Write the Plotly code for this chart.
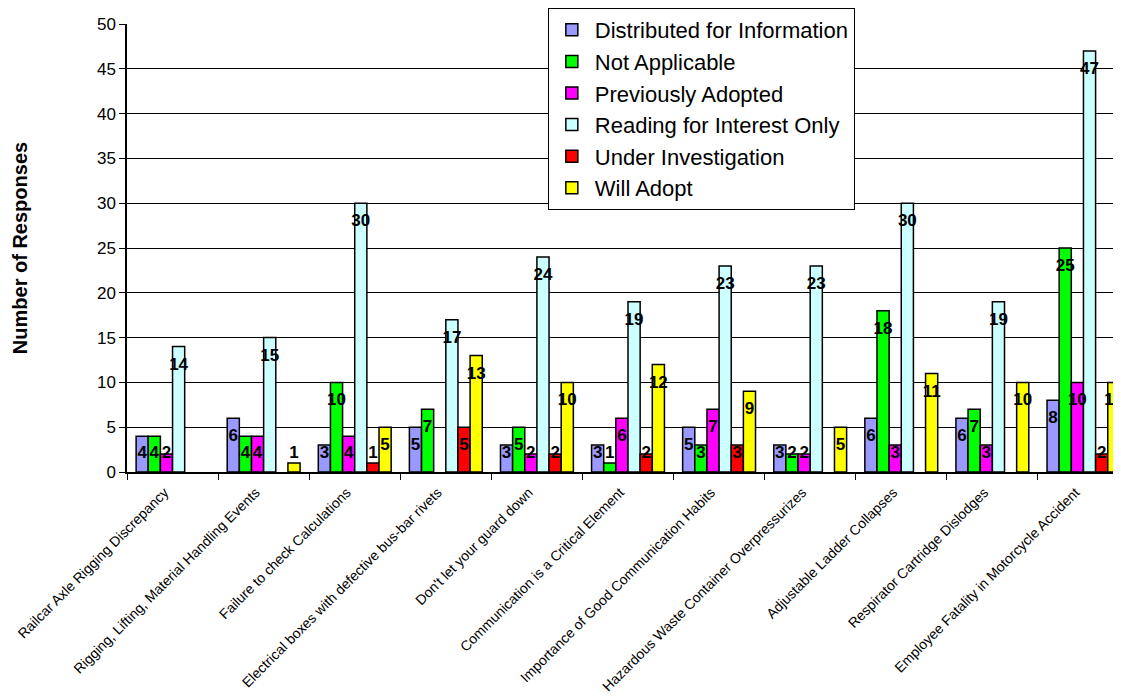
import plotly.graph_objects as go

# Responses per lesson learned
lessons = [
    "Railcar Axle Rigging Discrepancy",
    "Rigging, Lifting, Material Handling Events",
    "Failure to check Calculations",
    "Electrical boxes with defective bus-bar rivets",
    "Don't let your guard down",
    "Communication is a Critical Element",
    "Importance of Good Communication Habits",
    "Hazardous Waste Container Overpressurizes",
    "Adjustable Ladder Collapses",
    "Respirator Cartridge Dislodges",
    "Employee Fatality in Motorcycle Accident",
]
distributed = [4, 6, 3, 5, 3, 3, 5, 3, 6, 6, 8]
not_applicable = [4, 4, 10, 7, 5, 1, 3, 2, 18, 7, 25]
previously_adopted = [2, 4, 4, None, 2, 6, 7, 2, 3, 3, 10]
reading_interest = [14, 15, 30, 17, 24, 19, 23, 23, 30, 19, 47]
under_investigation = [None, None, 1, 5, 2, 2, 3, None, None, None, 2]
will_adopt = [None, 1, 5, 13, 10, 12, 9, 5, 11, 10, 10]

series = [
    ("Distributed for Information", distributed, "#9999FF"),
    ("Not Applicable", not_applicable, "#00FF00"),
    ("Previously Adopted", previously_adopted, "#FF00FF"),
    ("Reading for Interest Only", reading_interest, "#CCFFFF"),
    ("Under Investigation", under_investigation, "#FF0000"),
    ("Will Adopt", will_adopt, "#FFFF00"),
]

FONT = "Liberation Sans, Arial, sans-serif"

fig = go.Figure()
for i, (name, vals, col) in enumerate(series):
    fig.add_trace(go.Bar(
        x=lessons, y=vals, name=name, legendgroup=name,
        marker=dict(color=col, line=dict(color="black", width=1.5)),
        offsetgroup="g%d" % i,
    ))

# data labels sit just under the top of each bar (clamped above the axis)
for i, (name, vals, col) in enumerate(series):
    ypos = [None if v is None else max(v - 2.1, 2.0) for v in vals]
    fig.add_trace(go.Scatter(
        x=lessons, y=ypos, mode="text",
        text=["" if v is None else str(v) for v in vals],
        textposition="middle center",
        textfont=dict(family=FONT, size=17, color="black", weight="bold"),
        offsetgroup="g%d" % i, showlegend=False, hoverinfo="skip",
        cliponaxis=False,
    ))

# the page body adds 8px around the figure, so margins are set 8px short
fig.update_layout(
    width=1121, height=698,
    margin=dict(l=119, r=0, t=14, b=234),
    paper_bgcolor="white", plot_bgcolor="white",
    barmode="group", bargap=0.2, bargroupgap=0,
    scattermode="group", scattergap=0.2,
    font=dict(family=FONT, color="black"),
    legend=dict(
        x=0.420, y=1.036, xanchor="left", yanchor="top",
        bgcolor="white", bordercolor="black", borderwidth=1,
        font=dict(family=FONT, size=22, color="black"),
        traceorder="normal", itemwidth=36,
    ),
)
fig.update_xaxes(
    range=[-0.5, 10.5], tickson="boundaries", ticks="outside", ticklen=6,
    tickcolor="black", showline=True, linecolor="black", linewidth=1.5,
    tickangle=-45, tickfont=dict(family=FONT, size=14, color="black"),
    ticklabelshift=-8, ticklabelstandoff=5, showgrid=False,
)
fig.update_yaxes(
    range=[0, 50], dtick=5, ticks="outside", ticklen=6, tickcolor="black",
    showline=True, linecolor="black", linewidth=1.5,
    showgrid=True, gridcolor="black", gridwidth=1, zeroline=False,
    tickfont=dict(family=FONT, size=17, color="black"),
    title=dict(text="<b>Number of Responses</b>", standoff=64,
               font=dict(family=FONT, size=20, color="black")),
)

fig.write_html("out.html")
